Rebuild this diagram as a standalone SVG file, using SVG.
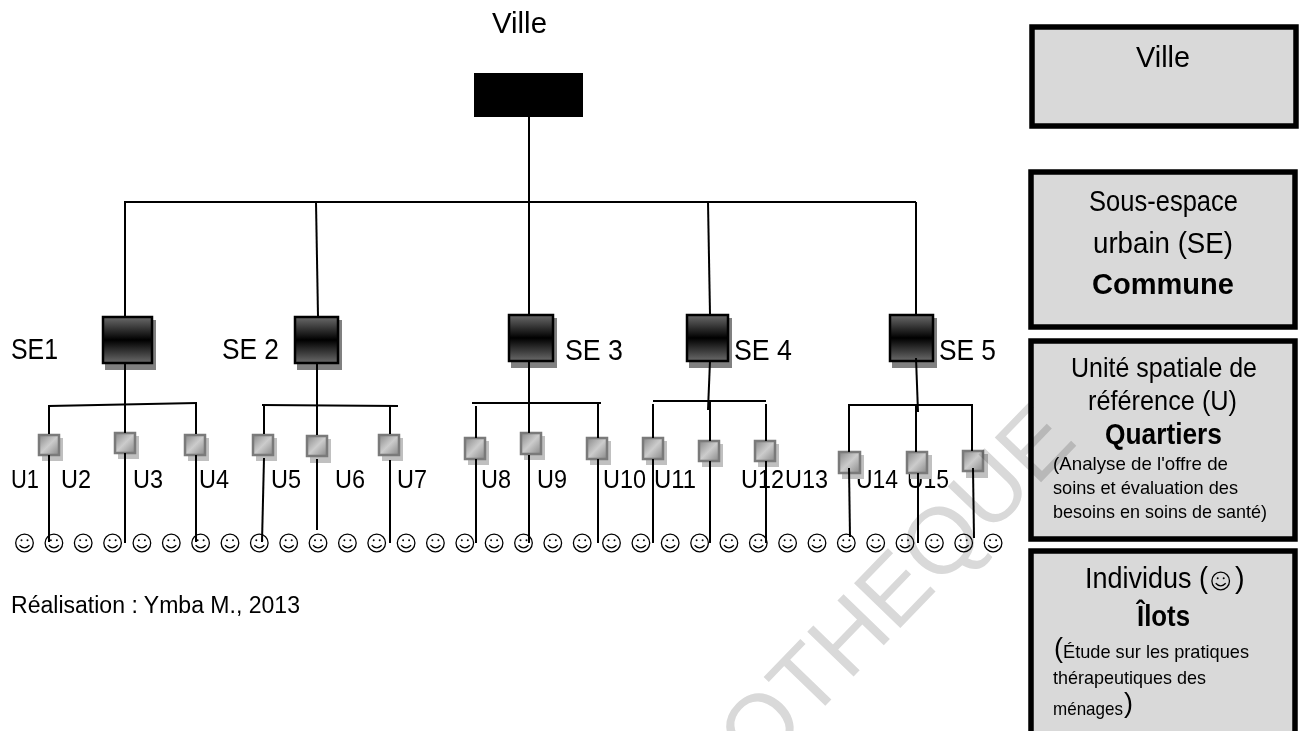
<svg xmlns="http://www.w3.org/2000/svg" width="1300" height="731" viewBox="0 0 1300 731">
<style>
text{font-family:"Liberation Sans",Arial,sans-serif;fill:#000}
.l{font-size:30px}
.u{font-size:26px}
.t{font-size:29px}
.b{font-size:29px;font-weight:bold}
.r{font-size:28px}
.s{font-size:19px}
.p{font-size:27px}
.wm{font-size:93.5px;fill:#d9d9d9;mix-blend-mode:multiply}
.box{fill:#d9d9d9;stroke:#000;stroke-width:5.5}
.c line,.c polyline{stroke:#000;stroke-width:2;fill:none}
.shb{fill:#808080}
.shu{fill:#c0c0c0}
.se{fill:url(#gse);stroke:#000;stroke-width:2.5}
.un{fill:url(#gun);stroke:#7a7a7a;stroke-width:2.5}
.sm circle{fill:none;stroke:#000;stroke-width:1.3}
.sm path{fill:none;stroke:#000;stroke-width:1.3}
.sm .e{fill:#000;stroke:none}
</style>
<defs>
<linearGradient id="gse" x1="0" y1="0" x2="0" y2="1"><stop offset="0" stop-color="#6a6a6a"/><stop offset=".5" stop-color="#000"/><stop offset="1" stop-color="#6a6a6a"/></linearGradient>
<linearGradient id="gun" x1="0" y1="0" x2="1" y2="1"><stop offset="0" stop-color="#888"/><stop offset=".5" stop-color="#ccc"/><stop offset="1" stop-color="#888"/></linearGradient>
<symbol id="smile" overflow="visible" viewBox="-10 -10 20 20" width="20" height="20"><g class="sm"><circle r="8.8"/><circle class="e" cx="-3" cy="-2.8" r="1"/><circle class="e" cx="3" cy="-2.8" r="1"/><path d="M-5 2.2Q0 7.5 5 2.2"/></g></symbol>
</defs>
<rect width="1300" height="731" fill="#fff"/>
<g id="connectors" class="c">
<line x1="529" y1="103" x2="529" y2="202"/>
<polyline points="125,316 125,202 916,202"/>
<line x1="316" y1="202" x2="318" y2="316"/>
<line x1="529" y1="202" x2="529" y2="314"/>
<line x1="708" y1="202" x2="710" y2="314"/>
<line x1="916" y1="202" x2="916" y2="314"/>
</g>
<g id="se1"><rect class="shb" x="105" y="320" width="51" height="50"/><rect class="se" x="103" y="317" width="49" height="46"/></g>
<g id="se2"><rect class="shb" x="297" y="320" width="45" height="50"/><rect class="se" x="295" y="317" width="43" height="46"/></g>
<g id="se3"><rect class="shb" x="511" y="318" width="46" height="50"/><rect class="se" x="509" y="315" width="44" height="46"/></g>
<g id="se4"><rect class="shb" x="689" y="318" width="43" height="50"/><rect class="se" x="687" y="315" width="41" height="46"/></g>
<g id="se5"><rect class="shb" x="892" y="318" width="45" height="50"/><rect class="se" x="890" y="315" width="43" height="46"/></g>
<g id="labels">
<text class="l" x="492" y="33" textLength="55" lengthAdjust="spacingAndGlyphs">Ville</text>
<text class="l" x="11" y="359" textLength="47" lengthAdjust="spacingAndGlyphs">SE1</text>
<text class="l" x="222" y="359" textLength="57" lengthAdjust="spacingAndGlyphs">SE 2</text>
<text class="l" x="565" y="360" textLength="58" lengthAdjust="spacingAndGlyphs">SE 3</text>
<text class="l" x="734" y="360" textLength="58" lengthAdjust="spacingAndGlyphs">SE 4</text>
<text class="l" x="939" y="360" textLength="57" lengthAdjust="spacingAndGlyphs">SE 5</text>
<text class="u" x="11" y="488" textLength="28" lengthAdjust="spacingAndGlyphs">U1</text>
<text class="u" x="61" y="488" textLength="30" lengthAdjust="spacingAndGlyphs">U2</text>
<text class="u" x="133" y="488" textLength="30" lengthAdjust="spacingAndGlyphs">U3</text>
<text class="u" x="199" y="488" textLength="30" lengthAdjust="spacingAndGlyphs">U4</text>
<text class="u" x="271" y="488" textLength="30" lengthAdjust="spacingAndGlyphs">U5</text>
<text class="u" x="335" y="488" textLength="30" lengthAdjust="spacingAndGlyphs">U6</text>
<text class="u" x="397" y="488" textLength="30" lengthAdjust="spacingAndGlyphs">U7</text>
<text class="u" x="481" y="488" textLength="30" lengthAdjust="spacingAndGlyphs">U8</text>
<text class="u" x="537" y="488" textLength="30" lengthAdjust="spacingAndGlyphs">U9</text>
<text class="u" x="603" y="488" textLength="43" lengthAdjust="spacingAndGlyphs">U10</text>
<text class="u" x="654" y="488" textLength="42" lengthAdjust="spacingAndGlyphs">U11</text>
<text class="u" x="741" y="488" textLength="43" lengthAdjust="spacingAndGlyphs">U12</text>
<text class="u" x="785" y="488" textLength="43" lengthAdjust="spacingAndGlyphs">U13</text>
<text class="u" x="856" y="488" textLength="42" lengthAdjust="spacingAndGlyphs">U14</text>
<text class="u" x="907" y="488" textLength="42" lengthAdjust="spacingAndGlyphs">U15</text>
<text x="11" y="613" font-size="23" textLength="289" lengthAdjust="spacingAndGlyphs">Réalisation : Ymba M., 2013</text>
</g>
<g id="units">
<g id="u-a1"><rect class="shu" x="42" y="438" width="21" height="23"/><rect class="un" x="39" y="435" width="20" height="20"/></g>
<g id="u-a2"><rect class="shu" x="118" y="436" width="21" height="23"/><rect class="un" x="115" y="433" width="20" height="20"/></g>
<g id="u-a3"><rect class="shu" x="188" y="438" width="21" height="23"/><rect class="un" x="185" y="435" width="20" height="20"/></g>
<g id="u-b1"><rect class="shu" x="256" y="438" width="21" height="23"/><rect class="un" x="253" y="435" width="20" height="20"/></g>
<g id="u-b2"><rect class="shu" x="310" y="439" width="21" height="24"/><rect class="un" x="307" y="436" width="20" height="20"/></g>
<g id="u-b3"><rect class="shu" x="382" y="438" width="21" height="23"/><rect class="un" x="379" y="435" width="20" height="20"/></g>
<g id="u-c1"><rect class="shu" x="468" y="441" width="21" height="24"/><rect class="un" x="465" y="438" width="20" height="21"/></g>
<g id="u-c2"><rect class="shu" x="524" y="436" width="21" height="24"/><rect class="un" x="521" y="433" width="20" height="21"/></g>
<g id="u-c3"><rect class="shu" x="590" y="441" width="21" height="24"/><rect class="un" x="587" y="438" width="20" height="21"/></g>
<g id="u-d1"><rect class="shu" x="646" y="441" width="21" height="24"/><rect class="un" x="643" y="438" width="20" height="21"/></g>
<g id="u-d2"><rect class="shu" x="702" y="444" width="21" height="23"/><rect class="un" x="699" y="441" width="20" height="20"/></g>
<g id="u-d3"><rect class="shu" x="758" y="444" width="21" height="23"/><rect class="un" x="755" y="441" width="20" height="20"/></g>
<g id="u-e1"><rect class="shu" x="842" y="455" width="22" height="24"/><rect class="un" x="839" y="452" width="21" height="21"/></g>
<g id="u-e2"><rect class="shu" x="910" y="455" width="22" height="24"/><rect class="un" x="907" y="452" width="20" height="21"/></g>
<g id="u-e3"><rect class="shu" x="966" y="454" width="22" height="24"/><rect class="un" x="963" y="451" width="20" height="20"/></g>
</g>
<g id="connectors-lower" class="c">
<line x1="125" y1="362" x2="125" y2="433"/>
<polyline points="49,434 49,406 197,403"/>
<line x1="196" y1="404" x2="196" y2="434"/>
<line x1="317" y1="362" x2="317" y2="435"/>
<line x1="262" y1="405" x2="398" y2="406"/>
<line x1="264" y1="405" x2="264" y2="434"/>
<line x1="390" y1="406" x2="390" y2="434"/>
<line x1="529" y1="361" x2="529" y2="433"/>
<line x1="472" y1="403" x2="601" y2="403"/>
<line x1="476" y1="406" x2="476" y2="438"/>
<line x1="598" y1="403" x2="598" y2="438"/>
<line x1="710" y1="361" x2="708" y2="410"/>
<line x1="653" y1="401" x2="766" y2="401"/>
<line x1="653" y1="404" x2="653" y2="438"/>
<line x1="710" y1="402" x2="710" y2="441"/>
<line x1="766" y1="404" x2="766" y2="441"/>
<line x1="916" y1="358" x2="918" y2="412"/>
<polyline points="849,452 849,405 972,405 972,451"/>
<line x1="916" y1="405" x2="916" y2="452"/>
<line x1="49" y1="455" x2="49" y2="542"/>
<line x1="125" y1="453" x2="125" y2="543"/>
<line x1="196" y1="455" x2="196" y2="542"/>
<line x1="264" y1="458" x2="262" y2="542"/>
<line x1="317" y1="459" x2="317" y2="530"/>
<line x1="390" y1="460" x2="390" y2="543"/>
<line x1="476" y1="459" x2="476" y2="543"/>
<line x1="529" y1="455" x2="529" y2="543"/>
<line x1="598" y1="459" x2="598" y2="543"/>
<line x1="653" y1="459" x2="653" y2="543"/>
<line x1="710" y1="461" x2="710" y2="543"/>
<line x1="766" y1="461" x2="766" y2="543"/>
<line x1="849" y1="468" x2="850" y2="537"/>
<line x1="918" y1="473" x2="918" y2="543"/>
<line x1="973" y1="468" x2="974" y2="538"/>
</g>
<g id="top"><rect x="474" y="73" width="109" height="44" fill="#000"/></g>
<g id="box-ville"><rect class="box" x="1032" y="27" width="264" height="99"/><text class="t" x="1136" y="67" textLength="54" lengthAdjust="spacingAndGlyphs">Ville</text></g>
<g id="box-se"><rect class="box" x="1031" y="172" width="264" height="155"/><text class="t" x="1089" y="211" textLength="149" lengthAdjust="spacingAndGlyphs">Sous-espace</text><text class="t" x="1093" y="253" textLength="140" lengthAdjust="spacingAndGlyphs">urbain (SE)</text><text class="b" x="1092" y="294" textLength="142" lengthAdjust="spacingAndGlyphs">Commune</text></g>
<g id="box-u"><rect class="box" x="1031" y="341" width="264" height="198"/><text class="r" x="1071" y="377" textLength="186" lengthAdjust="spacingAndGlyphs">Unité spatiale de</text><text class="r" x="1088" y="410" textLength="149" lengthAdjust="spacingAndGlyphs">référence (U)</text><text class="b" x="1105" y="444" textLength="117" lengthAdjust="spacingAndGlyphs">Quartiers</text><text class="s" x="1053" y="470" textLength="175" lengthAdjust="spacingAndGlyphs">(Analyse de l'offre de</text><text class="s" x="1053" y="494" textLength="185" lengthAdjust="spacingAndGlyphs">soins et évaluation des</text><text class="s" x="1053" y="518" textLength="214" lengthAdjust="spacingAndGlyphs">besoins en  soins de santé)</text></g>
<g id="box-i"><rect class="box" x="1031" y="551" width="264" height="190"/><text class="t" x="1085" y="588" textLength="123" lengthAdjust="spacingAndGlyphs">Individus (</text><use href="#smile" x="1210.7" y="571"/><text class="t" x="1235" y="588">)</text><text class="b" x="1137" y="626" textLength="53" lengthAdjust="spacingAndGlyphs">Îlots</text><text class="p" x="1054" y="657">(</text><text class="s" x="1063" y="658" textLength="186" lengthAdjust="spacingAndGlyphs">Étude sur les pratiques</text><text class="s" x="1053" y="684" textLength="153" lengthAdjust="spacingAndGlyphs">thérapeutiques des</text><text class="s" x="1053" y="715" textLength="70" lengthAdjust="spacingAndGlyphs">ménages</text><text class="p" x="1124" y="712">)</text></g>
<g id="individus-row">
<use href="#smile" x="14.5" y="533"/><use href="#smile" x="43.9" y="533"/><use href="#smile" x="73.2" y="533"/><use href="#smile" x="102.6" y="533"/><use href="#smile" x="131.9" y="533"/><use href="#smile" x="161.3" y="533"/><use href="#smile" x="190.6" y="533"/><use href="#smile" x="220" y="533"/><use href="#smile" x="249.3" y="533"/><use href="#smile" x="278.7" y="533"/><use href="#smile" x="308" y="533"/><use href="#smile" x="337.4" y="533"/><use href="#smile" x="366.7" y="533"/><use href="#smile" x="396.1" y="533"/><use href="#smile" x="425.4" y="533"/><use href="#smile" x="454.8" y="533"/><use href="#smile" x="484.1" y="533"/><use href="#smile" x="513.5" y="533"/><use href="#smile" x="542.8" y="533"/><use href="#smile" x="572.2" y="533"/><use href="#smile" x="601.5" y="533"/><use href="#smile" x="630.9" y="533"/><use href="#smile" x="660.2" y="533"/><use href="#smile" x="689.6" y="533"/><use href="#smile" x="718.9" y="533"/><use href="#smile" x="748.3" y="533"/><use href="#smile" x="777.6" y="533"/><use href="#smile" x="807" y="533"/><use href="#smile" x="836.3" y="533"/><use href="#smile" x="865.7" y="533"/><use href="#smile" x="895" y="533"/><use href="#smile" x="924.4" y="533"/><use href="#smile" x="953.7" y="533"/><use href="#smile" x="983.1" y="533"/>
</g>
<text id="watermark" class="wm" transform="translate(758,775.5) rotate(-46)">OTHEQUE</text>
</svg>
